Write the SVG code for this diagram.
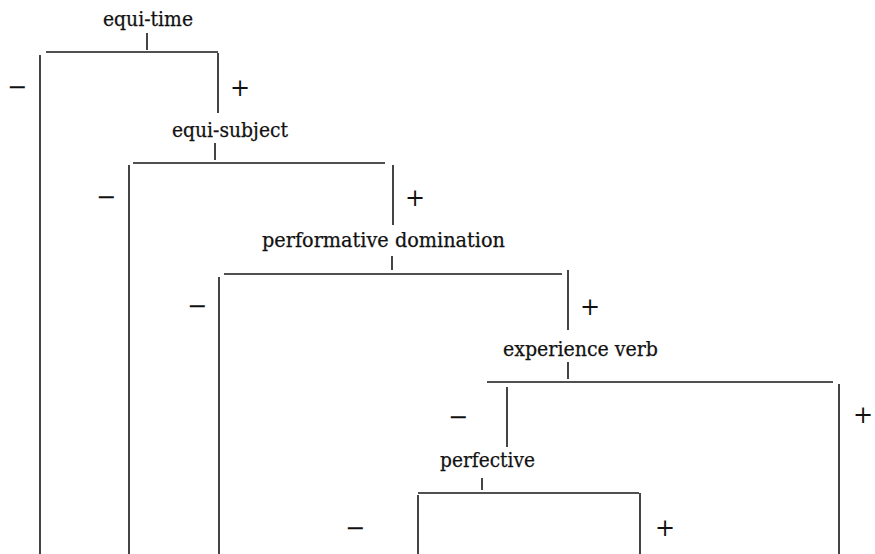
<svg xmlns="http://www.w3.org/2000/svg" width="875" height="554" viewBox="0 0 875 554">
<style>
.lbl{font-family:"DejaVu Serif","Liberation Serif",serif;font-size:19.5px;fill:#111111;stroke:#111111;stroke-width:0.25}
.sg{font-family:"DejaVu Serif","Liberation Serif",serif;font-size:24px;fill:#111111;text-anchor:middle}
.ln{stroke:#161616;stroke-width:1.6;fill:none}
</style>
<rect width="875" height="554" fill="#ffffff"/>
<g id="connectors" class="ln">
<line x1="147" y1="33" x2="147" y2="50"/>
<line x1="46" y1="52" x2="218" y2="52"/>
<line x1="40" y1="55" x2="40" y2="554"/>
<line x1="218" y1="53" x2="218" y2="113"/>
<line x1="215" y1="143" x2="215" y2="160"/>
<line x1="133" y1="163" x2="385" y2="163"/>
<line x1="129" y1="165" x2="129" y2="554"/>
<line x1="393" y1="165" x2="393" y2="225"/>
<line x1="392" y1="256" x2="392" y2="270"/>
<line x1="224" y1="274" x2="562" y2="274"/>
<line x1="219" y1="277" x2="219" y2="554"/>
<line x1="568" y1="270" x2="568" y2="330"/>
<line x1="568" y1="362" x2="568" y2="379"/>
<line x1="487" y1="382" x2="833" y2="382"/>
<line x1="507" y1="387" x2="507" y2="447"/>
<line x1="839" y1="384" x2="839" y2="554"/>
<line x1="482" y1="478" x2="482" y2="490"/>
<line x1="418" y1="493" x2="639" y2="493"/>
<line x1="418" y1="495" x2="418" y2="554"/>
<line x1="640" y1="493" x2="640" y2="554"/>
</g>
<g id="signs">
<text class="sg" x="17" y="95">−</text>
<text class="sg" x="240" y="96">+</text>
<text class="sg" x="106" y="205">−</text>
<text class="sg" x="415" y="206">+</text>
<text class="sg" x="197" y="314">−</text>
<text class="sg" x="590" y="315">+</text>
<text class="sg" x="458" y="425">−</text>
<text class="sg" x="863" y="423">+</text>
<text class="sg" x="355" y="536">−</text>
<text class="sg" x="665" y="536">+</text>
</g>
<g id="node-equi-time"><text class="lbl" x="103" y="26" textLength="90" lengthAdjust="spacingAndGlyphs">equi-time</text></g>
<g id="node-equi-subject"><text class="lbl" x="172" y="137" textLength="116" lengthAdjust="spacingAndGlyphs">equi-subject</text></g>
<g id="node-performative-domination"><text class="lbl" x="262" y="247" textLength="243" lengthAdjust="spacingAndGlyphs">performative domination</text></g>
<g id="node-experience-verb"><text class="lbl" x="503" y="356" textLength="155" lengthAdjust="spacingAndGlyphs">experience verb</text></g>
<g id="node-perfective"><text class="lbl" x="440" y="467" textLength="95" lengthAdjust="spacingAndGlyphs">perfective</text></g>
</svg>
